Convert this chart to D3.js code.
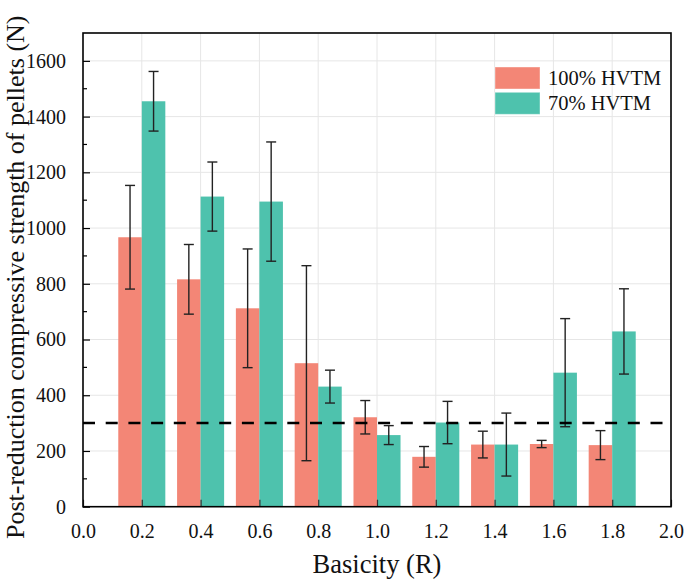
<!DOCTYPE html>
<html>
<head>
<meta charset="utf-8">
<script src="https://cdn.jsdelivr.net/npm/d3@7"></script>
<style>
  html, body { margin: 0; padding: 0; background: #fff; }
  svg { display: block; }
  svg text { font-family: "Times New Roman", "Liberation Serif", Times, "DejaVu Serif", serif !important; fill: #111; }
</style>
</head>
<body>
<div id="chart"></div>
<script>
// ---- data ----
const basicity = [0.2, 0.4, 0.6, 0.8, 1.0, 1.2, 1.4, 1.6, 1.8];
const strength100 = [967, 816, 712, 515, 321, 179, 223, 225, 221];
const error100 = [186, 125, 213, 350, 60, 37, 48, 13, 52];
const strength70 = [1455, 1113, 1095, 431, 257, 302, 223, 481, 629];
const error70 = [107, 124, 214, 59, 34, 76, 113, 194, 153];
const seriesNames = ["100% HVTM", "70% HVTM"];
const seriesColors = ["#F38676", "#4EC2AD"];
const xTicks = [0.0, 0.2, 0.4, 0.6, 0.8, 1.0, 1.2, 1.4, 1.6, 1.8, 2.0];
const yTicks = [0, 200, 400, 600, 800, 1000, 1200, 1400, 1600];
const yMinorTicks = [100, 300, 500, 700, 900, 1100, 1300, 1500];
const threshold = 300;
const xTitle = "Basicity (R)";
const yTitle = "Post-reduction compressive strength of pellets (N)";

// ---- layout ----
const W = 685, H = 580;
const m = { left: 83, right: 14, top: 33, bottom: 73.3 };
const iw = W - m.left - m.right, ih = H - m.top - m.bottom;
const barW = 0.08;

const svg = d3.select("#chart").append("svg").attr("width", W).attr("height", H);
const g = svg.append("g").attr("transform", `translate(${m.left},${m.top})`);

const x = d3.scaleLinear().domain([0, 2.0]).range([0, iw]);
const y = d3.scaleLinear().domain([0, 1700]).range([ih, 0]);

// grid
g.append("g").selectAll("line").data(yTicks.filter(d => d > 0)).join("line")
  .attr("x1", 0).attr("x2", iw).attr("y1", d => y(d)).attr("y2", d => y(d))
  .attr("stroke", "#e6e6e6").attr("stroke-width", 1);
g.append("g").selectAll("line").data(xTicks.filter(d => d > 0 && d < 2)).join("line")
  .attr("y1", 0).attr("y2", ih).attr("x1", d => x(d)).attr("x2", d => x(d))
  .attr("stroke", "#e6e6e6").attr("stroke-width", 1);

// bars
const series = [
  { vals: strength100, errs: error100, off: -barW, color: seriesColors[0] },
  { vals: strength70, errs: error70, off: 0, color: seriesColors[1] }
];
series.forEach(s => {
  g.append("g").selectAll("rect").data(basicity).join("rect")
    .attr("x", d => x(d + s.off))
    .attr("width", x(barW) - x(0))
    .attr("y", (d, i) => y(s.vals[i]))
    .attr("height", (d, i) => y(0) - y(s.vals[i]))
    .attr("fill", s.color);
});

// error bars
const cap = 5;
series.forEach(s => {
  const eg = g.append("g").attr("stroke", "#222").attr("stroke-width", 1.4);
  basicity.forEach((b, i) => {
    const cx = x(b + s.off + barW / 2);
    const hi = y(s.vals[i] + s.errs[i]), lo = y(s.vals[i] - s.errs[i]);
    eg.append("line").attr("x1", cx).attr("x2", cx).attr("y1", hi).attr("y2", lo);
    eg.append("line").attr("x1", cx - cap).attr("x2", cx + cap).attr("y1", hi).attr("y2", hi);
    eg.append("line").attr("x1", cx - cap).attr("x2", cx + cap).attr("y1", lo).attr("y2", lo);
  });
});

// threshold dashed line
g.append("line")
  .attr("x1", 0).attr("x2", iw).attr("y1", y(threshold)).attr("y2", y(threshold))
  .attr("stroke", "#000").attr("stroke-width", 2.5).attr("stroke-dasharray", "12,10.7");

// axes
const yAxis = d3.axisLeft(y).tickValues(yTicks).tickSize(-7).tickPadding(17).tickFormat(d3.format("d"));
const ya = g.append("g").call(yAxis).attr("font-family", null);
ya.select(".domain").remove();
ya.selectAll("line").attr("stroke", "#000").attr("stroke-width", 1.2);
ya.selectAll("text").attr("font-size", 20).attr("fill", "#111");

g.append("g").selectAll("line").data(yMinorTicks).join("line")
  .attr("x1", 0).attr("x2", 4).attr("y1", d => y(d)).attr("y2", d => y(d))
  .attr("stroke", "#000").attr("stroke-width", 1.2);

const xAxis = d3.axisBottom(x).tickValues(xTicks).tickSize(-7).tickPadding(17).tickFormat(d3.format(".1f"));
const xa = g.append("g").attr("transform", `translate(0,${ih})`).call(xAxis).attr("font-family", null);
xa.select(".domain").remove();
xa.selectAll("line").attr("stroke", "#333").attr("stroke-width", 1.2);
xa.selectAll("text").attr("font-size", 20).attr("fill", "#111");

// frame
g.append("rect").attr("x", 0).attr("y", 0).attr("width", iw).attr("height", ih)
  .attr("fill", "none").attr("stroke", "#000").attr("stroke-width", 1.6);

// titles
svg.append("text")
  .attr("x", m.left + iw / 2).attr("y", 573)
  .attr("text-anchor", "middle").attr("font-size", 26.5)
  .text(xTitle);
const yt = svg.append("text")
  .attr("text-anchor", "middle").attr("font-size", 26)
  .text(yTitle);
let len = yt.node().getComputedTextLength();
const maxLen = 530;
if (len > maxLen) { yt.attr("font-size", 26 * maxLen / len); len = maxLen; }
yt.attr("transform", `translate(23.5,${539 - len / 2}) rotate(-90)`);

// legend
const lg = svg.append("g").attr("transform", "translate(495,67)");
seriesNames.forEach((n, i) => {
  lg.append("rect").attr("x", 0).attr("y", i * 25.3).attr("width", 45).attr("height", 22)
    .attr("fill", seriesColors[i]).attr("stroke", "#fff").attr("stroke-opacity", 0.4);
  lg.append("text").attr("x", 53).attr("y", i * 25.5 + 17.5).attr("font-size", 20.5).text(n);
});
</script>
</body>
</html>
